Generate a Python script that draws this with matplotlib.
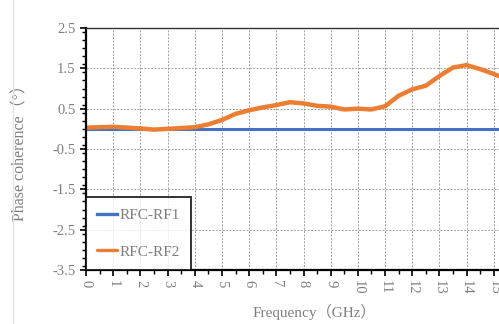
import numpy as np
import matplotlib.pyplot as plt
from matplotlib.lines import Line2D
from matplotlib.ticker import MultipleLocator

# Phase coherence vs frequency for the two RF channels
freq_ghz = [0, 0.5, 1, 1.5, 2, 2.5, 3, 3.5, 4, 4.5, 5, 5.5, 6, 6.5, 7, 7.5,
            8, 8.5, 9, 9.5, 10, 10.5, 11, 11.5, 12, 12.5, 13, 13.5, 14, 14.5,
            15, 15.3]
rf1_phase = [0.0] * len(freq_ghz)
rf2_phase = [0.03, 0.04, 0.05, 0.03, 0.01, -0.02, 0.0, 0.02, 0.04, 0.11,
             0.22, 0.37, 0.46, 0.53, 0.59, 0.66, 0.63, 0.57, 0.55, 0.48,
             0.50, 0.48, 0.56, 0.82, 0.98, 1.07, 1.31, 1.52, 1.58, 1.48,
             1.36, 1.28]
series_labels = ["RFC-RF1", "RFC-RF2"]

text_gray = "#7f7f7f"
fonts = ["Liberation Serif", "Noto Sans CJK SC"]
plt.rcParams["font.family"] = fonts

fig = plt.figure(figsize=(4.99, 3.24), dpi=100)
ax = fig.add_axes([86 / 499, 54 / 324, 435 / 499, 242 / 324])

ax.plot(freq_ghz, rf1_phase, color="#4472c4", lw=2.2, label=series_labels[0])
ax.plot(freq_ghz, rf2_phase, color="#ed7d31", lw=3.2, label=series_labels[1],
        solid_joinstyle="round", solid_capstyle="round")

ax.set_xlim(0, 16)
ax.set_ylim(-3.5, 2.5)
ax.set_xticks(np.arange(0, 16, 1))
ax.xaxis.set_minor_locator(MultipleLocator(0.5))
ax.set_yticks(np.arange(-3.5, 2.6, 1.0))
ax.yaxis.set_minor_locator(MultipleLocator(0.2))
ax.set_yticklabels([f"{v:.1f}" for v in np.arange(-3.5, 2.6, 1.0)])
ax.set_xticklabels([str(v) for v in range(16)], rotation=-90)

ax.grid(True, which="major", color="#a0a0a0", ls=(0, (2, 1.5)), lw=0.7)
ax.tick_params(which="major", direction="out", length=4, width=1.2,
               colors="black", labelcolor=text_gray, labelsize=10.5)
ax.tick_params(which="minor", direction="out", length=3, width=1.0,
               colors="black")
ax.tick_params(axis="x", pad=3)

for side in ["left", "bottom"]:
    ax.spines[side].set_linewidth(1.6)
ax.spines["top"].set_linewidth(1.0)
ax.spines["top"].set_color("#333333")
ax.spines["right"].set_visible(False)

ax.set_ylabel("Phase coherence（°）", color=text_gray, fontsize=11.5)
ax.yaxis.set_label_coords(-0.132, 0.5)
ax.set_xlabel("Frequency（GHz）", color=text_gray, fontsize=11)
ax.xaxis.set_label_coords(0.526, -0.14)

leg = ax.legend(loc="lower left", bbox_to_anchor=(0, 0), borderaxespad=0,
                fancybox=False, edgecolor="black", fontsize=11,
                handlelength=1.3, labelspacing=1.5, borderpad=0.75,
                handletextpad=0.15, labelcolor=text_gray)
leg.get_frame().set_linewidth(1.4)
for h in leg.get_lines():
    h.set_linewidth(2.4)

# thin border on the left edge of the chart area
fig.add_artist(Line2D([13 / 499, 13 / 499], [0, 1], color="#e3e3e3", lw=1.0))

fig.savefig("out.png", dpi=100)
